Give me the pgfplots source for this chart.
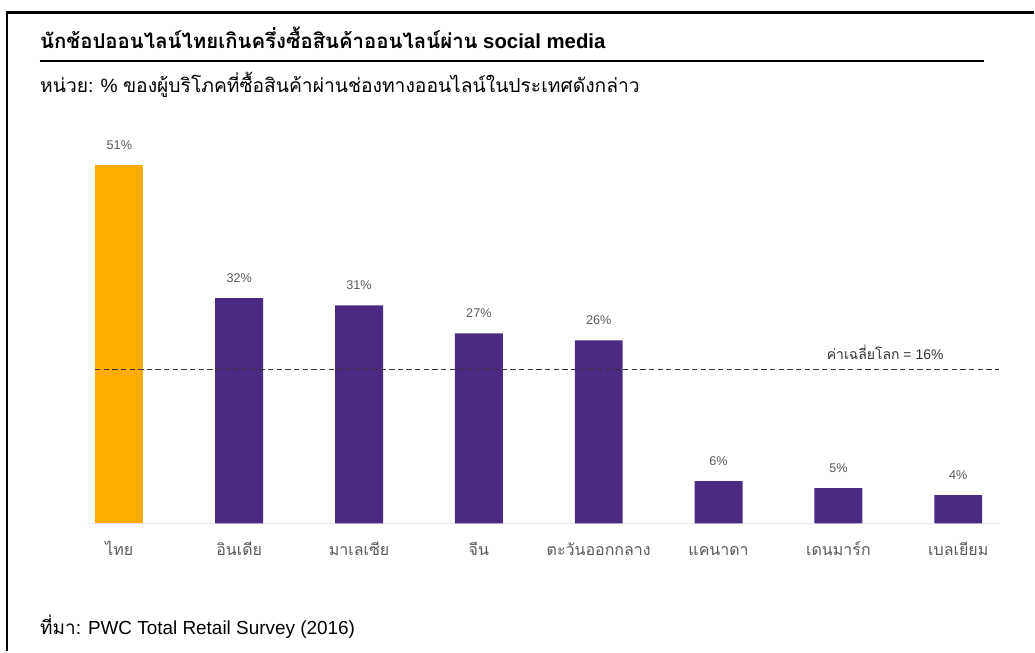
\documentclass[border=0pt]{standalone}
\usepackage{fontspec}
\usepackage{pgfplots}
\pgfplotsset{compat=1.18}
\setmainfont{Liberation Sans}
\newfontfamily\thai[Script=Thai]{Loma}

\definecolor{thorange}{HTML}{FFAB00}
\definecolor{thpurple}{HTML}{4B2A83}
\definecolor{lblgray}{HTML}{595959}
\definecolor{axisgray}{HTML}{E6E6E6}

% Thailand is drawn on its own in orange
\pgfplotstableread{
x val
1 32
2 31
3 27
4 26
5 6
6 5
7 4
}\others

\begin{document}
\begin{tikzpicture}[x=0.75pt,y=0.75pt]
% page, px units, y flipped (652 - y)
\fill[white] (0,0) rectangle (1035,652);
\draw[line width=2pt] (7,0) -- (7,639.5) -- (1035,639.5);

\begin{axis}[
    at={(89.625pt,96pt)}, anchor=origin,
    scale only axis,
    width=684pt, height=280.5pt,
    xmin=-0.2625, xmax=7.3375,
    ymin=0, ymax=53.1,
    axis x line=bottom,
    axis y line=none,
    axis line style={draw=axisgray, line width=1pt, -},
    xtick={0,...,7},
    xticklabels={ไทย, อินเดีย, มาเลเซีย, จีน, ตะวันออกกลาง, แคนาดา, เดนมาร์ก, เบลเยียม},
    xticklabel style={font=\thai\fontsize{12}{14}\selectfont, text=lblgray, anchor=base, yshift=-24pt},
    major tick length=0pt,
    ybar, bar width=0.4,
    /pgf/number format/assume math mode=true,
    nodes near coords={\pgfmathprintnumber{\pgfplotspointmeta}\%},
    every node near coord/.append style={font=\fontsize{9.5}{11}\selectfont, text=lblgray, yshift=8pt},
    clip=false,
]
\addplot[fill=thorange, draw=none, bar shift=0pt] coordinates {(0,51)};
\addplot[fill=thpurple, draw=none, bar shift=0pt] table[x=x, y=val] {\others};
\draw[dashed, dash pattern=on 4pt off 2.5pt, draw=black!80, line width=0.6pt]
    (axis cs:-0.204,21.9) -- (axis cs:7.3375,21.9);
\node[font=\fontsize{10.5}{12}\selectfont, text=black!80] at (axis cs:6.39,24.3)
    {{\thai ค่าเฉลี่ยโลก} = 16\%};
\end{axis}

% title, rule, subtitle, source
\node[anchor=base west, inner sep=0pt, font=\fontsize{15.3}{18}\selectfont] at (40,603)
    {{\thai\bfseries นักช้อปออนไลน์ไทยเกินครึ่งซื้อสินค้าออนไลน์ผ่าน} \textbf{social media}};
\draw[line width=1.5pt] (40,591) -- (985,591);
\node[anchor=base west, inner sep=0pt, font=\fontsize{14.45}{17}\selectfont] at (40,559)
    {{\thai หน่วย:} \% {\thai ของผู้บริโภคที่ซื้อสินค้าผ่านช่องทางออนไลน์ในประเทศดังกล่าว}};
\node[anchor=base west, inner sep=0pt, font=\fontsize{14.2}{17}\selectfont] at (40,17)
    {{\thai ที่มา:} PWC Total Retail Survey (2016)};
\end{tikzpicture}
\end{document}
